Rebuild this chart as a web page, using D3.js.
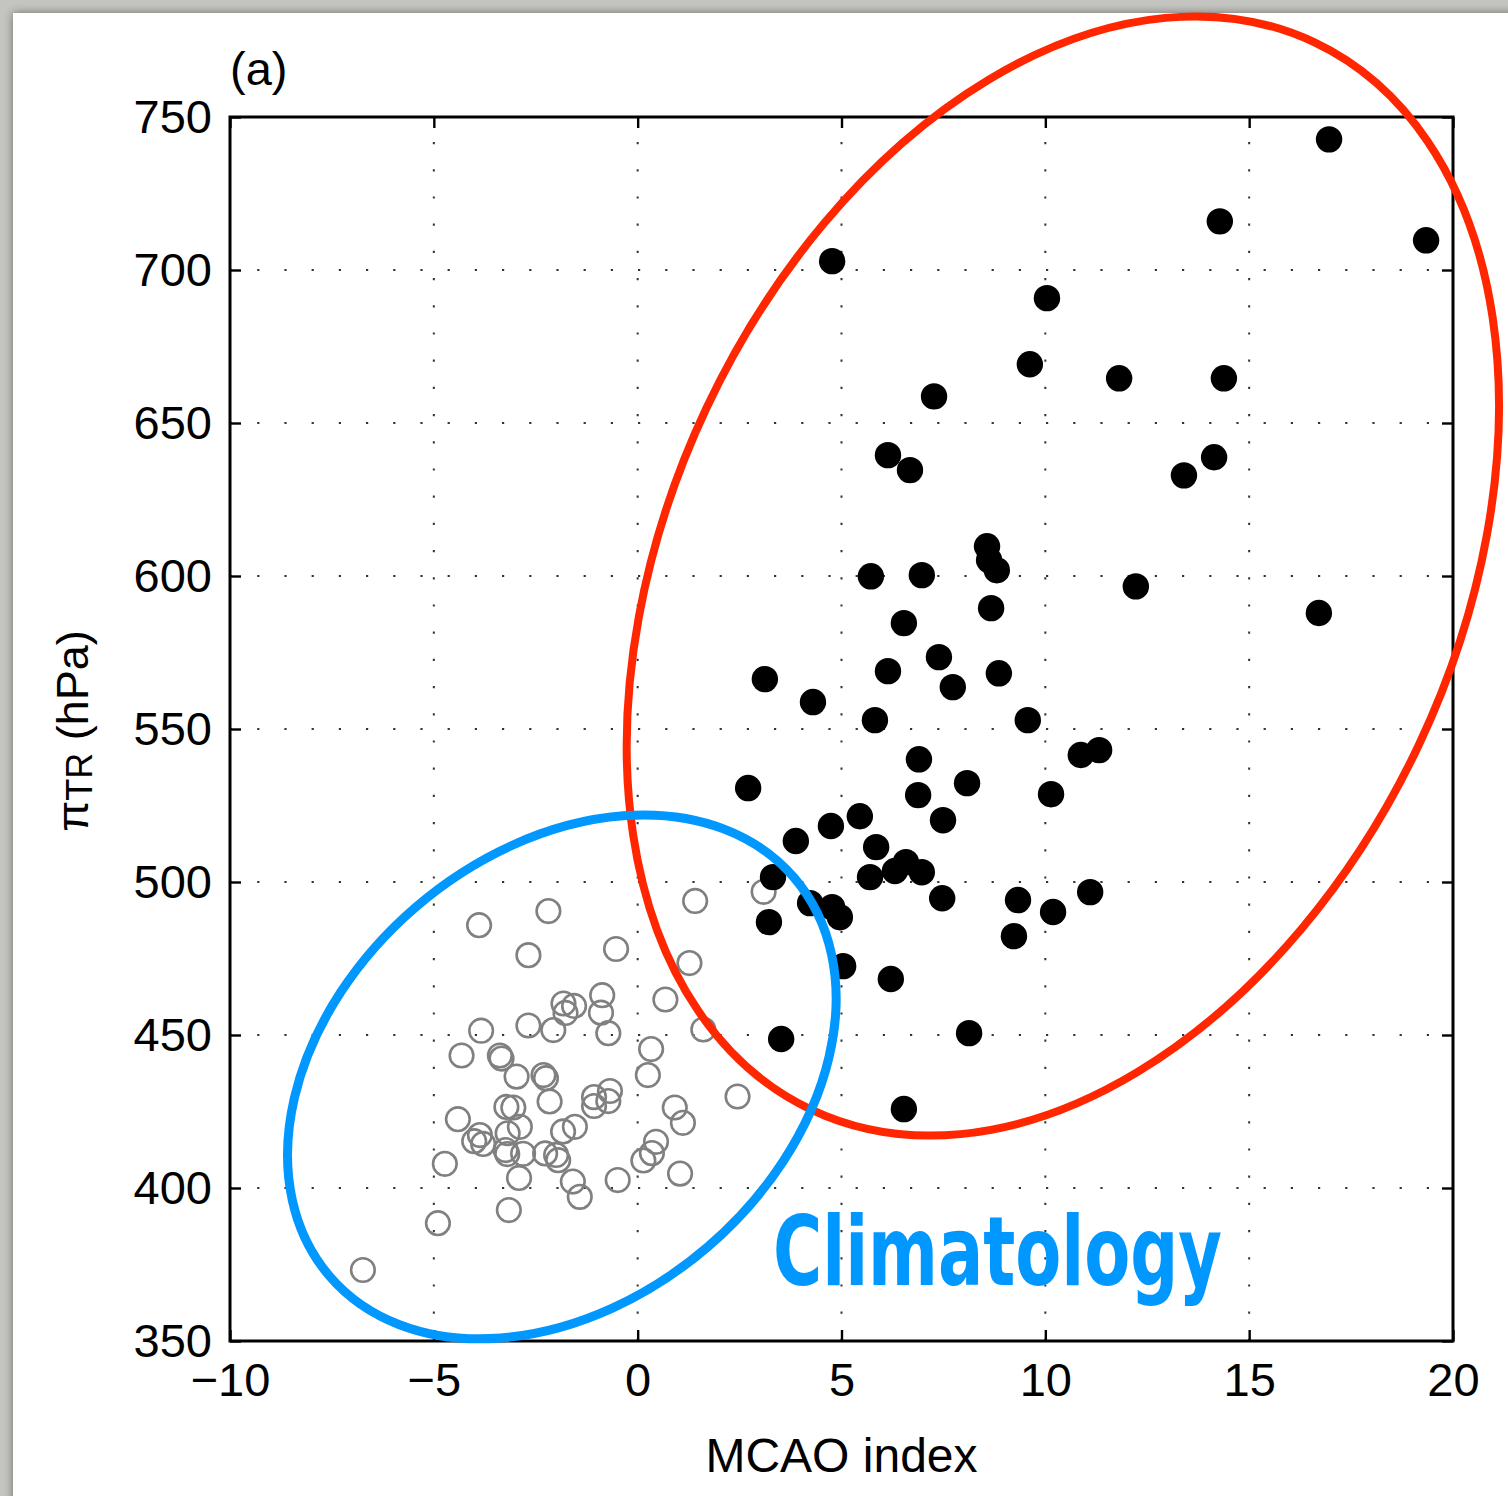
<!DOCTYPE html>
<html>
<head>
<meta charset="utf-8">
<script src="https://cdn.jsdelivr.net/npm/d3@7"></script>
<style>
  html, body { margin: 0; padding: 0; background: #c4c4c0; }
  svg { display: block; }
  .tick text { font-family: "Liberation Sans", Arial, Helvetica, sans-serif; fill: #000; }
</style>
</head>
<body>
<svg id="chart"></svg>
<script>
const width = 1508;
const height = 1496;
const margin = { top: 117, right: 55, bottom: 155, left: 230 };

// MCAO index, pi_TR (hPa) for the cold-air-outbreak cases (filled)
const filledPoints = [
  [16.96, 742.7], [14.28, 715.9], [19.34, 709.7], [4.77, 702.9], [10.04, 690.8],
  [9.62, 669.2], [11.81, 664.6], [14.38, 664.6], [7.27, 658.7], [6.14, 639.5],
  [6.68, 634.6], [14.14, 638.8], [13.4, 632.9], [8.57, 609.7], [8.62, 605.2],
  [8.81, 601.9], [5.72, 599.9], [6.97, 600.3], [12.22, 596.6], [8.67, 589.5],
  [6.53, 584.6], [16.71, 587.9], [7.39, 573.5], [6.14, 568.9], [8.86, 568.2],
  [7.73, 563.7], [3.12, 566.3], [4.3, 558.8], [5.82, 552.9], [9.57, 552.9],
  [10.87, 541.5], [11.32, 543.1], [6.9, 540.1], [2.71, 530.7], [8.08, 532.3],
  [6.88, 528.4], [10.14, 528.7], [5.45, 521.5], [4.74, 518.3], [7.49, 520.2],
  [3.88, 513.4], [5.85, 511.4], [6.58, 506.5], [6.31, 503.6], [6.97, 503.2],
  [5.7, 501.6], [3.32, 501.6], [7.47, 494.7], [9.33, 494.1], [11.1, 496.7],
  [10.19, 490.2], [4.23, 493.1], [4.77, 491.8], [4.96, 488.5], [3.22, 486.9],
  [9.23, 482.3], [5.04, 472.5], [6.21, 468.3], [3.52, 448.7], [8.13, 450.6],
  [6.53, 425.8],
];

// climatology (open circles)
const openPoints = [
  [-3.89, 485.9], [-2.19, 490.5], [-2.68, 476.1], [-0.53, 478.1], [1.41, 493.8],
  [1.27, 473.5], [0.68, 461.6], [1.61, 451.8], [-0.87, 463.0], [-0.9, 457.3],
  [-0.72, 450.6], [-1.82, 460.3], [-1.56, 459.5], [-1.77, 457.2], [-2.07, 451.6],
  [-2.68, 453.1], [-3.84, 451.4], [-4.32, 443.3], [-3.38, 443.3], [-3.34, 442.3],
  [-2.97, 436.4], [-2.31, 436.9], [-2.25, 435.9], [0.33, 445.4], [0.25, 436.9],
  [2.45, 429.9], [-0.68, 431.7], [-0.72, 428.4], [-1.07, 429.7], [-1.07, 426.8],
  [-2.16, 428.3], [0.91, 426.3], [1.11, 421.3], [-4.41, 422.5], [-3.22, 426.5],
  [-3.05, 426.3], [-2.89, 420.0], [-3.19, 417.9], [-3.87, 417.3], [-4.01, 415.3],
  [-3.79, 414.4], [-3.24, 412.4], [-3.2, 411.1], [-2.81, 411.2], [-2.27, 411.3],
  [-2.0, 410.8], [-1.95, 409.1], [-1.83, 418.5], [-1.54, 420.0], [0.45, 415.1],
  [0.35, 411.4], [0.14, 409.0], [1.04, 404.7], [-0.49, 402.6], [-1.59, 402.1],
  [-1.42, 397.1], [-2.91, 403.3], [-4.73, 407.9], [-3.16, 392.8], [-4.9, 388.5],
  [-6.74, 373.2], [3.09, 496.8],
];

const xTicks = [-10, -5, 0, 5, 10, 15, 20];
const yTicks = [350, 400, 450, 500, 550, 600, 650, 700, 750];

const svg = d3.select("#chart").attr("width", width).attr("height", height);

const defs = svg.append("defs");
const shadow = defs.append("filter").attr("id", "panelShadow")
  .attr("x", "-5%").attr("y", "-5%").attr("width", "110%").attr("height", "110%");
shadow.append("feDropShadow").attr("dx", 0).attr("dy", 0)
  .attr("stdDeviation", 5).attr("flood-color", "#000").attr("flood-opacity", 0.45);

// screenshot panel
svg.append("rect").attr("width", width).attr("height", height).attr("fill", "#c4c4c0");
svg.append("rect").attr("x", 13).attr("y", 13).attr("width", width + 20).attr("height", height + 20)
  .attr("fill", "#fff").attr("filter", "url(#panelShadow)");

const x = d3.scaleLinear().domain([-10, 20]).range([margin.left, width - margin.right]);
const y = d3.scaleLinear().domain([350, 750]).range([height - margin.bottom, margin.top]);

const font = "'Liberation Sans', Arial, Helvetica, sans-serif";

// dotted grid
const grid = svg.append("g").attr("stroke", "#333").attr("stroke-width", 2)
  .attr("stroke-dasharray", "2.2,25");
grid.selectAll("line.gx").data(xTicks.slice(1, -1)).join("line")
  .attr("x1", d => x(d)).attr("x2", d => x(d))
  .attr("y1", y(350)).attr("y2", y(750));
grid.selectAll("line.gy").data(yTicks.slice(1, -1)).join("line")
  .attr("y1", d => y(d)).attr("y2", d => y(d))
  .attr("x1", x(-10)).attr("x2", x(20));

// axes, ticks inward
const fmt = d3.format("d");
svg.append("g").attr("transform", `translate(0,${y(350)})`)
  .call(d3.axisBottom(x).tickValues(xTicks).tickFormat(fmt).tickSize(-11).tickPadding(22))
  .call(g => g.select(".domain").remove())
  .call(g => g.selectAll(".tick line").attr("stroke", "#000").attr("stroke-width", 2.4))
  .call(g => g.selectAll(".tick text").attr("font-size", 47).attr("font-family", font));
svg.append("g").attr("transform", `translate(${x(-10)},0)`)
  .call(d3.axisLeft(y).tickValues(yTicks).tickFormat(fmt).tickSize(-11).tickPadding(18))
  .call(g => g.select(".domain").remove())
  .call(g => g.selectAll(".tick line").attr("stroke", "#000").attr("stroke-width", 2.4))
  .call(g => g.selectAll(".tick text").attr("font-size", 47).attr("font-family", font));
svg.append("g").attr("transform", `translate(0,${y(750)})`)
  .call(d3.axisTop(x).tickValues(xTicks).tickFormat("").tickSize(-11))
  .call(g => g.select(".domain").remove())
  .call(g => g.selectAll(".tick line").attr("stroke", "#000").attr("stroke-width", 2.4));
svg.append("g").attr("transform", `translate(${x(20)},0)`)
  .call(d3.axisRight(y).tickValues(yTicks).tickFormat("").tickSize(-11))
  .call(g => g.select(".domain").remove())
  .call(g => g.selectAll(".tick line").attr("stroke", "#000").attr("stroke-width", 2.4));

svg.append("rect")
  .attr("x", x(-10)).attr("y", y(750))
  .attr("width", x(20) - x(-10)).attr("height", y(350) - y(750))
  .attr("fill", "none").attr("stroke", "#000").attr("stroke-width", 3);

// points
svg.append("g").selectAll("circle").data(openPoints).join("circle")
  .attr("cx", d => x(d[0])).attr("cy", d => y(d[1])).attr("r", 11.8)
  .attr("fill", "none").attr("stroke", "#808080").attr("stroke-width", 2.6);
svg.append("g").selectAll("circle").data(filledPoints).join("circle")
  .attr("cx", d => x(d[0])).attr("cy", d => y(d[1])).attr("r", 13.2)
  .attr("fill", "#000");

// annotation ellipses (centre in data units, radii in px, tilt in degrees)
const ellipses = [
  { cx: 10.43, cy: 600.0, rx: 590, ry: 394, angle: -64.8, color: "#ff2600", sw: 8 },
  { cx: -1.86, cy: 436.3, rx: 306, ry: 224, angle: -40.6, color: "#0097ff", sw: 9 },
];
svg.append("g").selectAll("ellipse").data(ellipses).join("ellipse")
  .attr("transform", d => `translate(${x(d.cx)},${y(d.cy)}) rotate(${d.angle})`)
  .attr("rx", d => d.rx).attr("ry", d => d.ry)
  .attr("fill", "none").attr("stroke", d => d.color).attr("stroke-width", d => d.sw);

// labels
svg.append("text").attr("x", 230).attr("y", 85)
  .attr("font-family", font).attr("font-size", 47).text("(a)");

svg.append("text").attr("x", x(5)).attr("y", 1472).attr("text-anchor", "middle")
  .attr("font-family", font).attr("font-size", 48).text("MCAO index");

const ylab = svg.append("text")
  .attr("transform", "translate(88,731) rotate(-90)")
  .attr("text-anchor", "middle").attr("font-family", font).attr("font-size", 45);
ylab.append("tspan").text("π");
ylab.append("tspan").attr("font-size", 36).attr("dy", 4).text("TR");
ylab.append("tspan").attr("dy", -4).text(" (hPa)");

svg.append("text").attr("x", 773).attr("y", 1285)
  .attr("font-family", "'Liberation Sans Narrow', 'DejaVu Sans Condensed', sans-serif")
  .attr("font-weight", "bold").attr("font-size", 96)
  .attr("textLength", 449).attr("lengthAdjust", "spacingAndGlyphs")
  .attr("fill", "#0097ff").text("Climatology");
</script>
</body>
</html>
